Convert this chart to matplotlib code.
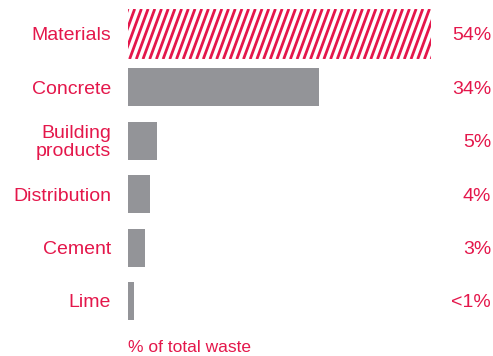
import numpy as np
import matplotlib
matplotlib.use("Agg")
import matplotlib.pyplot as plt
import matplotlib.transforms as mtransforms

# chart data
categories = ["Materials", "Concrete", "Building\nproducts", "Distribution", "Cement", "Lime"]
values = [54, 34, 5.2, 3.9, 3.0, 1.0]
value_labels = ["54%", "34%", "5%", "4%", "3%", "<1%"]
axis_note = "% of total waste"

RED = "#E4174B"
GREY = "#939498"
W, H = 493, 356

plt.rcParams["font.family"] = ["Liberation Sans", "DejaVu Sans"]

fig = plt.figure(figsize=(W / 100, H / 100), dpi=100)
# axes placed in pixel terms: x=0 at px 128, 54% at px 431; row pitch ~53.4 px
px_per_pct = (431 - 128) / 54
left, right = 128, 490
top, bottom = 7.3, 327.7
ax = fig.add_axes([left / W, 1 - bottom / H, (right - left) / W, (bottom - top) / H])
ax.set_xlim(0, (right - left) / px_per_pct)
ax.set_ylim(len(categories) - 0.5, -0.5)
ax.axis("off")

ypos = np.arange(len(categories))
heights = [0.94] + [0.71] * (len(categories) - 1)

# grey bars for everything but the first
ax.barh(ypos[1:], values[1:], height=heights[1:], color=GREY, align="center")

# hatched first bar: white box with red diagonal stripes clipped to it
hbar = ax.barh(ypos[0], values[0], height=heights[0], color="none", edgecolor="none")[0]
step = 6.7 / px_per_pct          # stripe pitch along x
shift = 18.5 / px_per_pct        # x offset of a stripe over the bar height
y_lo, y_hi = ypos[0] + heights[0] / 2, ypos[0] - heights[0] / 2
for x0 in np.arange(-shift, values[0] + step, step):
    line, = ax.plot([x0, x0 + shift], [y_lo, y_hi], color=RED, lw=2.0,
                    solid_capstyle="butt")
    line.set_clip_path(hbar)

# category names on the left, values on the right (nudged down a touch)
lab_tr = mtransforms.blended_transform_factory(fig.transFigure, ax.transData)
lab_tr = mtransforms.offset_copy(lab_tr, fig=fig, y=-2, units="dots")
for y, cat, vl in zip(ypos, categories, value_labels):
    ax.text(111 / W, y, cat, transform=lab_tr, ha="right", va="center",
            color=RED, fontsize=14, linespacing=1.08)
    ax.text(491 / W, y, vl, transform=lab_tr, ha="right", va="center",
            color=RED, fontsize=14)

fig.text(128 / W, 1 - 347 / H, axis_note, ha="left", va="center",
         color=RED, fontsize=12.5)

fig.savefig("out.png", dpi=100)
